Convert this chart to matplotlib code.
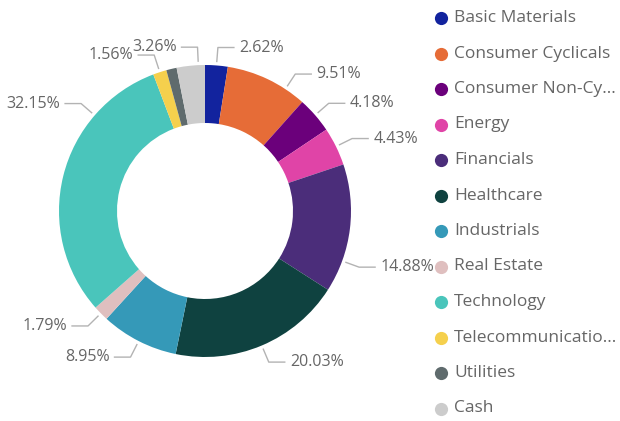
import numpy as np
import matplotlib
matplotlib.use("Agg")
import matplotlib.pyplot as plt

plt.rcParams['font.family'] = ['Open Sans', 'DejaVu Sans']

sectors = ['Basic Materials', 'Consumer Cyclicals', 'Consumer Non-Cy...', 'Energy',
           'Financials', 'Healthcare', 'Industrials', 'Real Estate', 'Technology',
           'Telecommunicatio...', 'Utilities', 'Cash']
weights = [2.62, 9.51, 4.18, 4.43, 14.88, 20.03, 8.95, 1.79, 32.15, 1.56, 1.20, 3.26]
shown = [True] * 12
shown[10] = False  # utilities has no label in the original

colors = ['#12239E', '#E66C37', '#6B007B', '#E044A7', '#4B2D7A', '#0F4240',
          '#3599B8', '#DFBFBF', '#4AC5BB', '#F5D04D', '#5F6B6D', '#CCCCCC']

# label angle tweaks (degrees, clockwise) to follow the Power BI label placement
nudge = [0, 8, 0, 0, 13, 0, 0, 0, 27, 0, 0, 3]

fig = plt.figure(figsize=(6.2, 4.21), dpi=100)
ax = fig.add_axes([0, 0, 1, 1])
ax.set_aspect('equal')
ax.axis('off')

cx, cy, R = 205, 210, 146
wedges, _ = ax.pie(weights, colors=colors, startangle=90, counterclock=False,
                   center=(cx, cy), radius=R, wedgeprops=dict(width=58, linewidth=0))
ax.set_xlim(0, 620)
ax.set_ylim(0, 421)

grey_text = '#666666'
line_col = '#B3B3B3'
for w, val, show, nd in zip(wedges, weights, shown, nudge):
    if not show:
        continue
    ang = np.deg2rad((w.theta1 + w.theta2) / 2 - nd)
    ux, uy = np.cos(ang), np.sin(ang)
    x0, y0 = cx + (R + 4) * ux, cy + (R + 4) * uy
    x1, y1 = cx + (R + 18) * ux, cy + (R + 18) * uy
    side = 1 if ux >= 0 else -1
    x2 = x1 + side * 16
    ax.plot([x0, x1, x2], [y0, y1, y1], color=line_col, lw=1)
    ax.text(x2 + side * 5, y1, f'{val:.2f}%', ha='left' if side > 0 else 'right',
            va='center', fontsize=11.5, color=grey_text)

# legend
for i, (name, c) in enumerate(zip(sectors, colors)):
    ly = 421 - (18 + i * 35.5)
    ax.plot(441, ly, 'o', ms=9.5, color=c, mec='none')
    ax.text(454, ly, name, va='center', ha='left', fontsize=12.5, color=grey_text)

fig.savefig('out.png', dpi=100)
